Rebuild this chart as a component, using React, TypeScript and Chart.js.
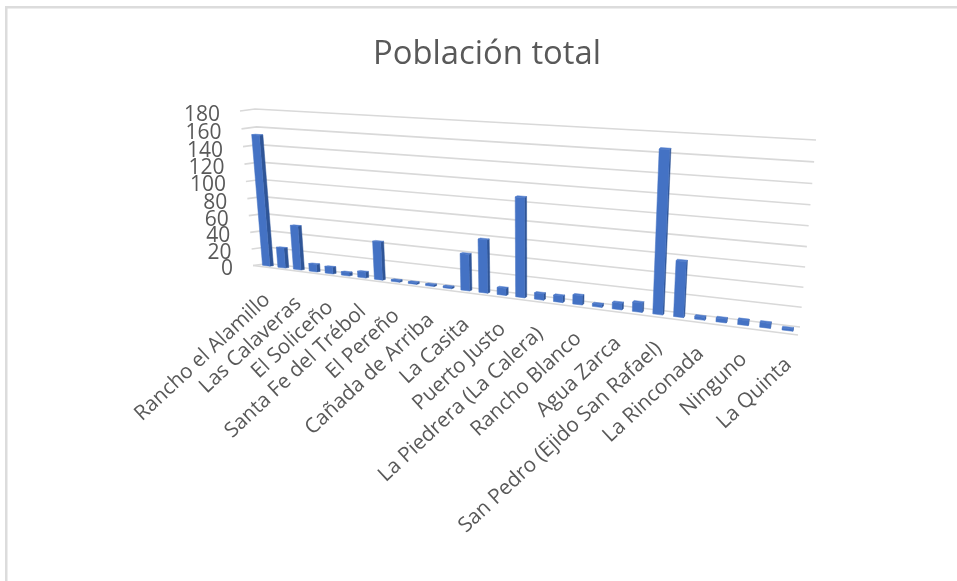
import React, { useEffect, useRef } from "react";
import { Chart, registerables } from "chart.js";

Chart.register(...registerables);

const titleText = "Población total";
// Every second category carries a label in the picture; the others are not readable.
const categories = [
  "Rancho el Alamillo", "", "Las Calaveras", "", "El Soliceño", "", "Santa Fe del Trébol", "",
  "El Pereño", "", "Cañada de Arriba", "", "La Casita", "", "Puerto Justo", "",
  "La Piedrera (La Calera)", "", "Rancho Blanco", "", "Agua Zarca", "",
  "San Pedro (Ejido San Rafael)", "", "La Rinconada", "", "Ninguno", "", "La Quinta",
];
const poblacion = [
  153, 24, 52, 9, 8, 4, 7, 44, 2, 2, 2, 2, 41, 59, 8, 108, 7, 7, 10, 3, 7, 10, 167, 58, 3, 4, 5, 5, 2,
];

type Pt = [number, number];
const backQuad: Pt[] = [[268, 263.5], [800, 327], [816, 140], [255, 109]];
const frontQuad: Pt[] = [[253, 265.5], [798, 335], [814, 148], [240, 111]];
const depthFront = 0.63;
const depthBack = 0.39;

function homography(q: Pt[]) {
  const [p0, p1, p2, p3] = q;
  const dx1 = p1[0] - p2[0], dx2 = p3[0] - p2[0], sx = p0[0] - p1[0] + p2[0] - p3[0];
  const dy1 = p1[1] - p2[1], dy2 = p3[1] - p2[1], sy = p0[1] - p1[1] + p2[1] - p3[1];
  const det = dx1 * dy2 - dx2 * dy1;
  const g = (sx * dy2 - dx2 * sy) / det;
  const h = (dx1 * sy - sx * dy1) / det;
  const a = p1[0] - p0[0] + g * p1[0], b = p3[0] - p0[0] + h * p3[0], c = p0[0];
  const d = p1[1] - p0[1] + g * p1[1], e = p3[1] - p0[1] + h * p3[1], f = p0[1];
  return (u: number, v: number): Pt => {
    const w = g * u + h * v + 1;
    return [(a * u + b * v + c) / w, (d * u + e * v + f) / w];
  };
}
const hBack = homography(backQuad);
const hFront = homography(frontQuad);
const project = (u: number, v: number, t: number): Pt => {
  const a = hBack(u, v), b = hFront(u, v);
  return [a[0] + (b[0] - a[0]) * t, a[1] + (b[1] - a[1]) * t];
};

function poly(ctx: CanvasRenderingContext2D, pts: Pt[], color: string) {
  ctx.beginPath();
  pts.forEach((p, i) => (i ? ctx.lineTo(p[0], p[1]) : ctx.moveTo(p[0], p[1])));
  ctx.closePath();
  ctx.fillStyle = color;
  ctx.strokeStyle = color;
  ctx.lineWidth = 0.5;
  ctx.fill();
  ctx.stroke();
}
function line(ctx: CanvasRenderingContext2D, pts: Pt[]) {
  ctx.beginPath();
  pts.forEach((p, i) => (i ? ctx.lineTo(p[0], p[1]) : ctx.moveTo(p[0], p[1])));
  ctx.stroke();
}

const FONT = '"Open Sans", sans-serif';

const perspectivePlugin = {
  id: "perspective",
  beforeDatasetsDraw(chart: any) {
    const { ctx, chartArea: ca, scales } = chart;
    const y = scales.y, x = scales.x;
    ctx.save();
    // frame
    ctx.fillStyle = "#dcdcdc";
    ctx.fillRect(5, 6, 952, 2.5);
    ctx.fillRect(5, 6, 2.5, 575);
    // wall grid
    ctx.strokeStyle = "#d9d9d9";
    ctx.lineWidth = 1.6;
    y.ticks.forEach((t: any) => {
      const v = (ca.bottom - y.getPixelForValue(t.value)) / ca.height;
      line(ctx, [hFront(0, v), hBack(0, v), hBack(1, v)]);
      if (t.value === 0) line(ctx, [hFront(0, 0), hFront(1, 0)]);
      const lp = hFront(0, v);
      ctx.fillStyle = "#595959";
      ctx.font = `21px ${FONT}`;
      ctx.textAlign = "right";
      ctx.textBaseline = "middle";
      ctx.fillText(String(t.value), lp[0] - 20, lp[1] + 4);
    });
    // category labels
    const labels = chart.data.labels as string[];
    labels.forEach((lab, i) => {
      if (!lab) return;
      const u = (x.getPixelForValue(i) - ca.left) / ca.width;
      const p = project(u, 0, depthFront);
      ctx.save();
      ctx.translate(p[0] + 1, p[1] + 31);
      ctx.rotate((-43 * Math.PI) / 180);
      ctx.fillStyle = "#595959";
      ctx.font = `20.7px ${FONT}`;
      ctx.textAlign = "right";
      ctx.textBaseline = "middle";
      ctx.fillText(lab, 0, 0);
      ctx.restore();
    });
    ctx.restore();
  },
  beforeDatasetDraw(chart: any, args: any) {
    const { ctx, chartArea: ca } = chart;
    ctx.save();
    args.meta.data.forEach((el: any) => {
      const u0 = (el.x - el.width / 2 - ca.left) / ca.width;
      const u1 = (el.x + el.width / 2 - ca.left) / ca.width;
      const v = (ca.bottom - el.y) / ca.height;
      const f = (u: number, w: number) => project(u, w, depthFront);
      const b = (u: number, w: number) => project(u, w, depthBack);
      poly(ctx, [b(u1, 0), b(u1, v), f(u1, v), f(u1, 0)], "#2F5597");
      poly(ctx, [b(u0, v), b(u1, v), f(u1, v), f(u0, v)], "#4F7BCB");
      poly(ctx, [f(u0, 0), f(u1, 0), f(u1, v), f(u0, v)], "#4472C4");
    });
    ctx.restore();
    return false;
  },
};

export default function App() {
  const ref = useRef<HTMLCanvasElement>(null);
  useEffect(() => {
    document.body.style.margin = "0";
    const chart = new Chart(ref.current!, {
      type: "bar",
      data: {
        labels: categories,
        datasets: [{ label: "Población total", data: poblacion, backgroundColor: "#4472C4", barPercentage: 0.48, categoryPercentage: 1 }],
      },
      options: {
        animation: false,
        responsive: false,
        layout: { padding: { top: 35, left: 200, right: 183, bottom: 200 } },
        plugins: {
          legend: { display: false },
          tooltip: { enabled: false },
          title: {
            display: true,
            text: titleText,
            color: "#595959",
            font: { family: '"Open Sans", sans-serif', size: 32.8, weight: "normal" },
            padding: { top: 0, bottom: 10 },
          },
        },
        scales: {
          x: { offset: true, grid: { display: false }, border: { display: false }, ticks: { display: false, autoSkip: false } },
          y: { min: 0, max: 180, grid: { display: false }, border: { display: false }, ticks: { display: false, stepSize: 20 } },
        },
      },
      plugins: [perspectivePlugin],
    });
    return () => chart.destroy();
  }, []);
  return <canvas ref={ref} width={957} height={581} style={{ display: "block", filter: "blur(0.5px)" }} />;
}
